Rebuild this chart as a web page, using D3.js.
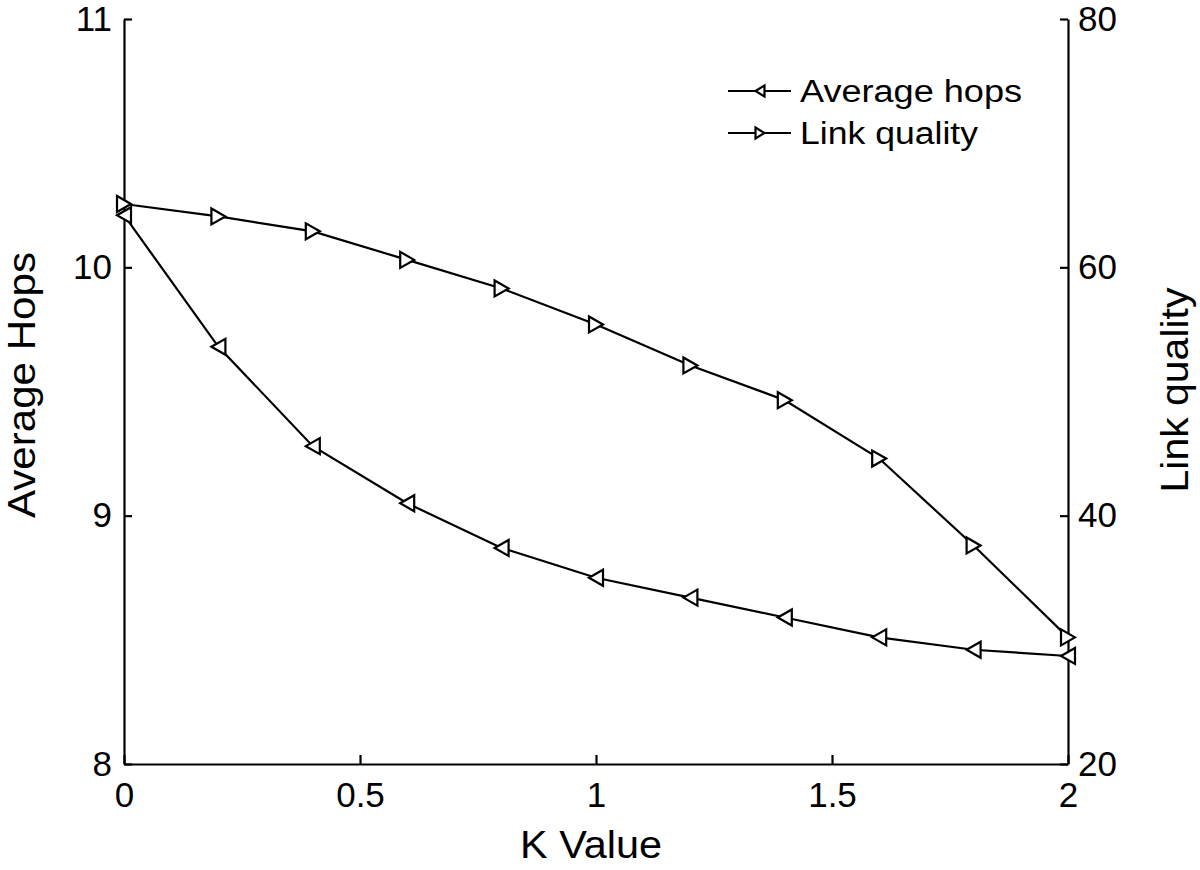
<!DOCTYPE html>
<html>
<head>
<meta charset="utf-8">
<script src="https://cdn.jsdelivr.net/npm/d3@7"></script>
<style>
  body { margin: 0; background: #fff; }
  svg text { font-family: "Liberation Sans", Arial, Helvetica, sans-serif; fill: #000; }
  .axis path, .axis line { stroke: #000; stroke-width: 2.2; }
  .axis text { font-size: 35px; }
</style>
</head>
<body>
<div id="chart"></div>
<script>
// values
var kValues = [0, 0.2, 0.4, 0.6, 0.8, 1.0, 1.2, 1.4, 1.6, 1.8, 2.0];
var averageHops = [10.21, 9.68, 9.28, 9.05, 8.87, 8.75, 8.67, 8.59, 8.51, 8.46, 8.435];
var linkQuality = [65.1, 64.1, 62.9, 60.6, 58.3, 55.4, 52.1, 49.3, 44.6, 37.6, 30.2];
var xTicks = [0, 0.5, 1, 1.5, 2];
var leftTicks = [8, 9, 10, 11];
var rightTicks = [20, 40, 60, 80];
var seriesNames = ["Average hops", "Link quality"];

var chart = {
    width: 1200,
    height: 870,
    left: 124,
    right: 1068,
    top: 19,
    bottom: 764
};

var svg = d3.select("#chart").append("svg")
    .attr("width", chart.width)
    .attr("height", chart.height);

var x = d3.scaleLinear().domain([0, 2]).range([chart.left, chart.right]);
var yLeft = d3.scaleLinear().domain([8, 11]).range([chart.bottom, chart.top]);
var yRight = d3.scaleLinear().domain([20, 80]).range([chart.bottom, chart.top]);

// axes, ticks pointing inward like the matlab original
svg.append("g")
    .attr("class", "axis")
    .attr("transform", "translate(0," + chart.bottom + ")")
    .call(d3.axisBottom(x).tickValues(xTicks).tickFormat(function(d) { return String(d); })
        .tickSizeInner(-9).tickSizeOuter(0).tickPadding(18));

svg.append("g")
    .attr("class", "axis")
    .attr("transform", "translate(" + chart.left + ",0)")
    .call(d3.axisLeft(yLeft).tickValues(leftTicks).tickFormat(d3.format("d"))
        .tickSizeInner(-8).tickSizeOuter(0).tickPadding(12));

svg.append("g")
    .attr("class", "axis")
    .attr("transform", "translate(" + chart.right + ",0)")
    .call(d3.axisRight(yRight).tickValues(rightTicks).tickFormat(d3.format("d"))
        .tickSizeInner(-8).tickSizeOuter(0).tickPadding(10));

// axis titles
svg.append("text")
    .attr("x", 591).attr("y", 858)
    .attr("text-anchor", "middle")
    .attr("font-size", 38)
    .attr("textLength", 142).attr("lengthAdjust", "spacingAndGlyphs")
    .text("K Value");

svg.append("text")
    .attr("transform", "translate(35,385) rotate(-90)")
    .attr("text-anchor", "middle")
    .attr("font-size", 38)
    .attr("textLength", 266).attr("lengthAdjust", "spacingAndGlyphs")
    .text("Average Hops");

svg.append("text")
    .attr("transform", "translate(1188,390) rotate(-90)")
    .attr("text-anchor", "middle")
    .attr("font-size", 38)
    .attr("textLength", 205).attr("lengthAdjust", "spacingAndGlyphs")
    .text("Link quality");

// triangle markers
function triangle(dir, w, h) {
    // dir = -1 points left, 1 points right
    var hw = w / 2, hh = h / 2;
    return "M" + (dir * hw) + ",0L" + (-dir * hw) + "," + (-hh) + "L" + (-dir * hw) + "," + hh + "Z";
}

var hopsPts = kValues.map(function(k, i) { return [x(k), yLeft(averageHops[i])]; });
var lqPts = kValues.map(function(k, i) { return [x(k), yRight(linkQuality[i])]; });

var line = d3.line();

svg.append("path")
    .attr("d", line(hopsPts))
    .attr("fill", "none").attr("stroke", "#000").attr("stroke-width", 2.2);

svg.append("path")
    .attr("d", line(lqPts))
    .attr("fill", "none").attr("stroke", "#000").attr("stroke-width", 2.2);

svg.selectAll(".hopsMarker")
    .data(hopsPts).enter()
    .append("path")
    .attr("class", "hopsMarker")
    .attr("transform", function(d) { return "translate(" + d[0] + "," + d[1] + ")"; })
    .attr("d", triangle(-1, 14, 16))
    .attr("fill", "#fff").attr("stroke", "#000").attr("stroke-width", 2.2);

svg.selectAll(".lqMarker")
    .data(lqPts).enter()
    .append("path")
    .attr("class", "lqMarker")
    .attr("transform", function(d) { return "translate(" + d[0] + "," + d[1] + ")"; })
    .attr("d", triangle(1, 14, 16))
    .attr("fill", "#fff").attr("stroke", "#000").attr("stroke-width", 2.2);

// legend
var legend = svg.append("g").attr("class", "legend");
var legendRows = [
    { name: seriesNames[0], dir: -1, y: 91, len: 222 },
    { name: seriesNames[1], dir: 1, y: 133, len: 178 }
];
legendRows.forEach(function(r) {
    legend.append("line")
        .attr("x1", 728).attr("x2", 791)
        .attr("y1", r.y).attr("y2", r.y)
        .attr("stroke", "#000").attr("stroke-width", 2.2);
    legend.append("path")
        .attr("transform", "translate(760," + r.y + ")")
        .attr("d", triangle(r.dir, 9, 11))
        .attr("fill", "#fff").attr("stroke", "#000").attr("stroke-width", 2.2);
    legend.append("text")
        .attr("x", 800).attr("y", r.y + 11)
        .attr("font-size", 31)
        .attr("textLength", r.len).attr("lengthAdjust", "spacingAndGlyphs")
        .text(r.name);
});
</script>
</body>
</html>
